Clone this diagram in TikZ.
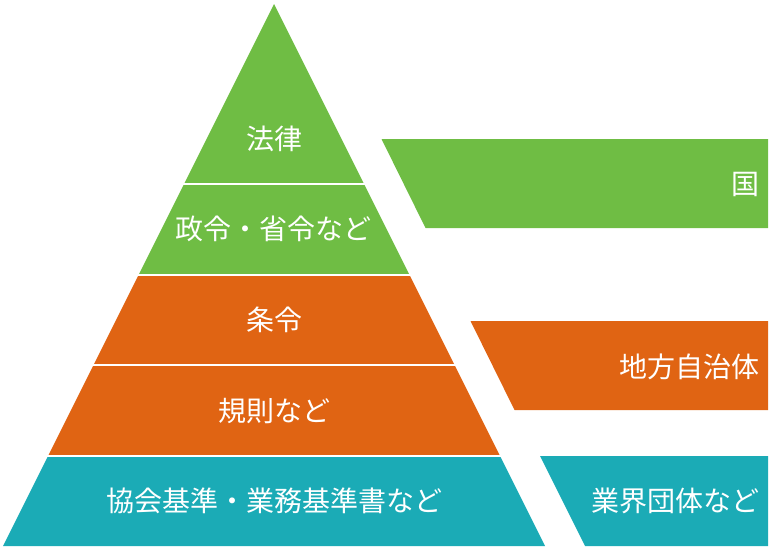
\documentclass[tikz,border=0pt]{standalone}
\usepackage{fontspec}
\setmainfont{Noto Sans CJK JP}
\usetikzlibrary{positioning}

\definecolor{lawgreen}{RGB}{111,189,68}
\definecolor{cityorange}{RGB}{224,100,19}
\definecolor{groupteal}{RGB}{27,171,182}

\begin{document}
\begin{tikzpicture}[
				x=1pt, y=-1pt,
				every node/.style={font=\fontsize{28}{32}\selectfont, text=white, inner sep=0pt},
				line join=round
				]
				
				\useasboundingbox (0,0) rectangle (771,549);
				
				% Pyramid
				\fill[lawgreen] (274,4) -- (409.5,275) -- (138.5,275) -- cycle;
				\fill[cityorange] (138.5,275) -- (409.5,275) -- (500,456) -- (48,456) -- cycle;
				\fill[groupteal] (48,456) -- (500,456) -- (545,546) -- (3,546) -- cycle;
				
				% Gaps between layers
				\foreach \y/\w in {184/90, 275/135.5, 365/180.5, 456/226}
				{
					\draw[white, line width=2pt] (274-\w-2,\y) -- (274+\w+2,\y);
				}
				
				% Side bands
				\fill[lawgreen] (381.5,139) -- (768,139) -- (768,228) -- (425.5,228) -- cycle;
				\fill[cityorange] (470.5,321) -- (768,321) -- (768,410) -- (514.5,410) -- cycle;
				\fill[groupteal] (540,456) -- (768,456) -- (768,546) -- (585,546) -- cycle;
				
				% Layer labels
				\node (law) at (274,139) {法律};
				\node (order) at (273,229) {政令・省令など};
				\node (ordinance) at (274,320) {条令};
				\node (rule) at (274,411) {規則など};
				\node (standard) at (274,501) {協会基準・業務基準書など};
				
				% Band labels
				\node[anchor=east] (state) at (760,184) {国};
				\node[anchor=east] (local) at (760,367) {地方自治体};
				\node[anchor=east] (industry) at (760,501) {業界団体など};
				
			\end{tikzpicture}
\end{document}
